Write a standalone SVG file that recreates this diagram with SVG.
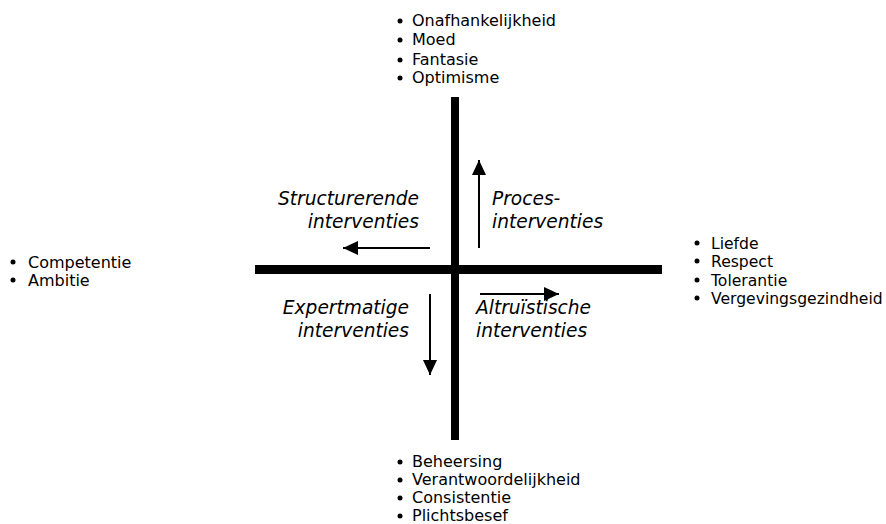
<svg xmlns="http://www.w3.org/2000/svg" width="886" height="524" viewBox="0 0 886 524">
<style>
.lst{font-family:"DejaVu Sans","Verdana",sans-serif;font-size:16px;fill:#000}
.rl{font-size:15.6px}
.lbl{font-family:"DejaVu Sans","Verdana",sans-serif;font-size:18.6px;font-style:italic;fill:#000}
.bar{fill:#000}
.arr{stroke:#000;stroke-width:2;fill:none;marker-end:url(#ah)}
</style>
<defs>
<marker id="ah" markerWidth="16" markerHeight="14" refX="15" refY="7" orient="auto" markerUnits="userSpaceOnUse">
<path d="M0,0 L15,7 L0,14 Z" fill="#000"/>
</marker>
</defs>
<rect width="886" height="524" fill="#fff"/>
<g id="axes">
<rect class="bar" x="451" y="97" width="8" height="343"/>
<rect class="bar" x="255" y="265" width="407" height="9"/>
</g>
<g id="connectors">
<line class="arr" x1="430" y1="248" x2="343" y2="248"/>
<line class="arr" x1="479" y1="248" x2="479" y2="160"/>
<line class="arr" x1="430" y1="294" x2="430" y2="375"/>
<line class="arr" x1="480" y1="294" x2="559" y2="294"/>
</g>
<g id="top-list">
<circle cx="400" cy="21" r="2.5"/><text class="lst" x="412" y="26">Onafhankelijkheid</text>
<circle cx="400" cy="40" r="2.5"/><text class="lst" x="412" y="45">Moed</text>
<circle cx="400" cy="60" r="2.5"/><text class="lst" x="412" y="65">Fantasie</text>
<circle cx="400" cy="78" r="2.5"/><text class="lst" x="412" y="83">Optimisme</text>
</g>
<g id="left-list">
<circle cx="13" cy="262" r="2.5"/><text class="lst" x="28" y="268">Competentie</text>
<circle cx="13" cy="280" r="2.5"/><text class="lst" x="28" y="286">Ambitie</text>
</g>
<g id="right-list">
<circle cx="697" cy="243" r="2.5"/><text class="lst rl" x="711" y="249">Liefde</text>
<circle cx="697" cy="261" r="2.5"/><text class="lst rl" x="711" y="267">Respect</text>
<circle cx="697" cy="280" r="2.5"/><text class="lst rl" x="711" y="286">Tolerantie</text>
<circle cx="697" cy="298" r="2.5"/><text class="lst rl" x="711" y="304">Vergevingsgezindheid</text>
</g>
<g id="bottom-list">
<circle cx="400" cy="462" r="2.5"/><text class="lst" x="412" y="467">Beheersing</text>
<circle cx="400" cy="480" r="2.5"/><text class="lst" x="412" y="485">Verantwoordelijkheid</text>
<circle cx="400" cy="498" r="2.5"/><text class="lst" x="412" y="503">Consistentie</text>
<circle cx="400" cy="516" r="2.5"/><text class="lst" x="412" y="521">Plichtsbesef</text>
</g>
<g id="structurerende">
<text class="lbl" x="419" y="205" text-anchor="end">Structurerende</text>
<text class="lbl" x="419" y="228" text-anchor="end">interventies</text>
</g>
<g id="proces">
<text class="lbl" x="492" y="205">Proces-</text>
<text class="lbl" x="492" y="228">interventies</text>
</g>
<g id="expertmatige">
<text class="lbl" x="409" y="314" text-anchor="end">Expertmatige</text>
<text class="lbl" x="409" y="337" text-anchor="end">interventies</text>
</g>
<g id="altruistische">
<text class="lbl" x="476" y="314">Altruïstische</text>
<text class="lbl" x="476" y="337">interventies</text>
</g>
</svg>
